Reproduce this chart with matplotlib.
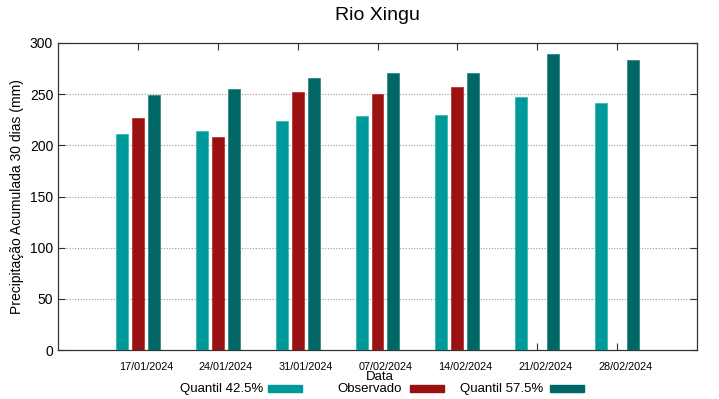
import matplotlib.pyplot as plt
from matplotlib.patches import Rectangle
import numpy as np

plt.rcParams['font.family'] = ['Liberation Sans', 'DejaVu Sans']

# Data
datas = ['17/01/2024', '24/01/2024', '31/01/2024', '07/02/2024',
         '14/02/2024', '21/02/2024', '28/02/2024']
q425 = [211, 214, 224, 229, 230, 247, 241]
observado = [227, 208, 252, 250, 257, np.nan, np.nan]
q575 = [249, 255, 266, 271, 271, 289, 283]

c_q425 = '#009999'
c_obs = '#991111'
c_q575 = '#006666'

fig = plt.figure(figsize=(7.19, 3.99), dpi=100)
ax = fig.add_axes([58/719, 49/399, 639/719, 307/399])

x = np.arange(1, len(datas) + 1)
w = 0.15
ax.bar(x - 0.2, q425, w, color=c_q425, edgecolor='#33bbbb', linewidth=0.6, zorder=3)
ax.bar(x, observado, w, color=c_obs, edgecolor='#bb3333', linewidth=0.6, zorder=3)
ax.bar(x + 0.2, q575, w, color=c_q575, edgecolor='#338888', linewidth=0.6, zorder=3)

ax.set_xlim(0, 8)
ax.set_ylim(0, 300)
ax.set_yticks(range(0, 301, 50))
ax.set_xticks(x)
ax.set_xticklabels([])
for xi, lab in zip(x, datas):
    ax.text(xi + 0.1, -12, lab, ha='center', va='top', fontsize=7.8,
            transform=ax.transData)

for yv in range(50, 300, 50):
    ax.axhline(yv, color='#999999', linestyle=(0, (1, 1.5)), linewidth=0.8, zorder=1)

ax.tick_params(axis='both', direction='in', top=True, right=True, length=5,
               width=0.8, colors='#333333', labelcolor='black')
ax.tick_params(axis='y', labelsize=10)
for s in ax.spines.values():
    s.set_color('#333333')
    s.set_linewidth(0.9)

ax.set_ylabel('Precipitação Acumulada 30 dias (mm)', fontsize=10)
fig.text(380/719, 1 - 377/399, 'Data', ha='center', va='center', fontsize=9.5)
fig.text(377/719, 1 - 16/399, 'Rio Xingu', ha='center', va='center', fontsize=14)

# legend
legend = [('Quantil 42.5%', c_q425, 263, 268),
          ('Observado', c_obs, 402, 410),
          ('Quantil 57.5%', c_q575, 543, 550)]
for lab, col, tx, sx in legend:
    fig.text(tx/719, 1 - 389/399, lab, ha='right', va='center', fontsize=9.5)
    fig.patches.append(Rectangle((sx/719, 1 - 392/399), 34/719, 7/399, color=col,
                                 transform=fig.transFigure, figure=fig))

fig.savefig('out.png', dpi=100)
